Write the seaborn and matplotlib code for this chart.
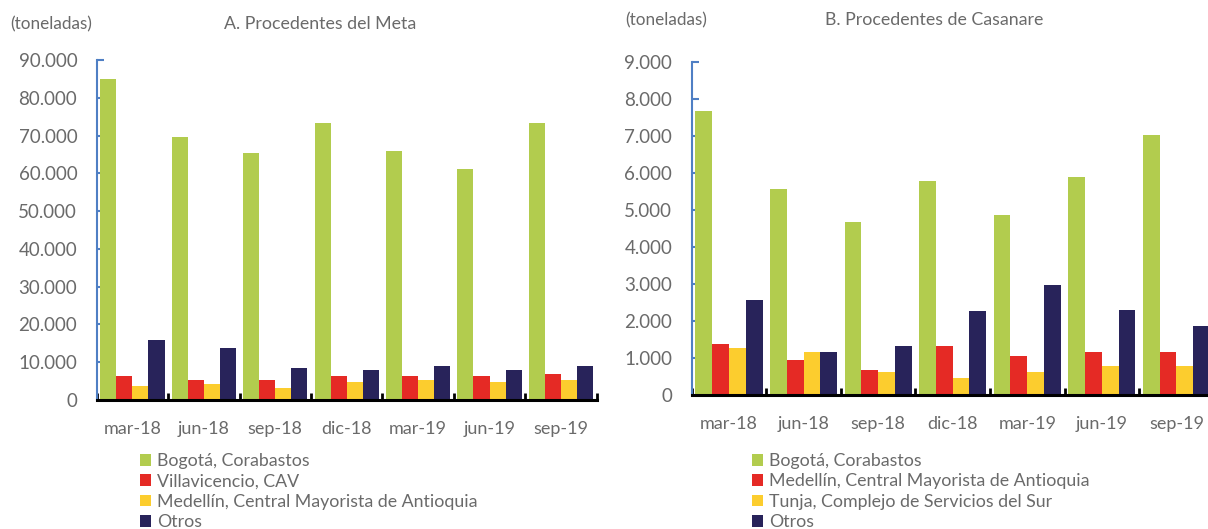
import matplotlib
matplotlib.use("Agg")
import matplotlib.pyplot as plt
import seaborn as sns
import pandas as pd
from matplotlib.ticker import FuncFormatter, FixedLocator

periods = ["mar-18", "jun-18", "sep-18", "dic-18", "mar-19", "jun-19", "sep-19"]

# Panel A: Procedentes del Meta (toneladas)
meta_series = ["Bogotá, Corabastos", "Villavicencio, CAV",
               "Medellín, Central Mayorista de Antioquia", "Otros"]
meta_bogota = [85000, 69700, 65500, 73300, 66000, 61200, 73300]
meta_villavicencio = [6350, 5300, 5300, 6350, 6350, 6350, 6900]
meta_medellin = [3700, 4200, 3200, 4800, 5300, 4800, 5300]
meta_otros = [15900, 13800, 8500, 7900, 9000, 7900, 9000]

# Panel B: Procedentes de Casanare (toneladas)
cas_series = ["Bogotá, Corabastos", "Medellín, Central Mayorista de Antioquia",
              "Tunja, Complejo de Servicios del Sur", "Otros"]
cas_bogota = [7670, 5570, 4660, 5780, 4870, 5900, 7030]
cas_medellin = [1380, 950, 670, 1320, 1050, 1160, 1160]
cas_tunja = [1270, 1160, 610, 450, 610, 780, 780]
cas_otros = [2570, 1160, 1320, 2280, 2980, 2300, 1860]

colors = ["#B2CC4E", "#E52A25", "#FCCD2E", "#28235A"]
text_gray = "#6a6a6a"
spine_blue = "#4F7FC4"

sns.set_theme(style="white")
plt.rcParams["font.family"] = ["Lato", "DejaVu Sans"]


def long_df(series_names, values_lists):
    rows = []
    for name, vals in zip(series_names, values_lists):
        for p, v in zip(periods, vals):
            rows.append({"periodo": p, "serie": name, "valor": v})
    return pd.DataFrame(rows)


dfA = long_df(meta_series, [meta_bogota, meta_villavicencio, meta_medellin, meta_otros])
dfB = long_df(cas_series, [cas_bogota, cas_medellin, cas_tunja, cas_otros])

fig = plt.figure(figsize=(12.08, 5.29), dpi=100)
axA = fig.add_axes([96.7 / 1208, 129 / 529, 500 / 1208, 340 / 529])
axB = fig.add_axes([691.7 / 1208, 134 / 529, 522 / 1208, 333.3 / 529])

fmt = FuncFormatter(lambda v, p: f"{int(v):,}".replace(",", "."))


def style(ax, df, series, ymax, step, legend_xy):
    sns.barplot(data=df, x="periodo", y="valor", hue="serie", hue_order=series,
                order=periods, palette=colors, width=0.9, gap=0, ax=ax,
                saturation=1, edgecolor="none", linewidth=0, errorbar=None)
    ax.set_ylim(0, ymax)
    ax.set_xlim(-0.5, len(periods) - 0.5)
    ax.set_yticks(range(0, ymax + 1, step))
    ax.yaxis.set_major_formatter(fmt)
    ax.set_xlabel("")
    ax.set_ylabel("")
    for s in ["top", "right"]:
        ax.spines[s].set_visible(False)
    ax.spines["left"].set_color(spine_blue)
    ax.spines["left"].set_linewidth(1.5)
    ax.spines["bottom"].set_color("black")
    ax.spines["bottom"].set_linewidth(2.2)
    ax.tick_params(axis="y", direction="in", length=5, width=1.5, color=spine_blue,
                   labelcolor=text_gray, labelsize=13.5, pad=14, left=True)
    ax.tick_params(axis="x", which="major", length=0, labelcolor=text_gray,
                   labelsize=13, pad=15)
    ax.xaxis.set_minor_locator(FixedLocator([i - 0.5 for i in range(len(periods) + 1)]))
    ax.tick_params(axis="x", which="minor", direction="in", length=5, width=2,
                   color="black", bottom=True)
    ax.grid(False)
    handles, labels = ax.get_legend_handles_labels()
    ax.get_legend().remove()
    fig.legend(handles, labels, loc="upper left", bbox_to_anchor=legend_xy,
               bbox_transform=fig.transFigure, frameon=False, fontsize=12.8,
               labelcolor=text_gray, handlelength=0.62, handleheight=0.62,
               handletextpad=0.35, labelspacing=0.25, borderpad=0, borderaxespad=0)


style(axA, dfA, meta_series, 90000, 10000, (140 / 1208, 1 - 453 / 529))
style(axB, dfB, cas_series, 9000, 1000, (752 / 1208, 1 - 453 / 529))

fig.text(10 / 1208, 1 - 24 / 529, "(toneladas)", ha="left", va="center",
         color=text_gray, fontsize=12.3)
fig.text(320 / 1208, 1 - 24 / 529, "A. Procedentes del Meta", ha="center",
         va="center", color=text_gray, fontsize=12.8)
fig.text(625 / 1208, 1 - 20 / 529, "(toneladas)", ha="left", va="center",
         color=text_gray, fontsize=12.3)
fig.text(934 / 1208, 1 - 20 / 529, "B. Procedentes de Casanare", ha="center",
         va="center", color=text_gray, fontsize=12.8)

fig.savefig("out.png", dpi=100)
